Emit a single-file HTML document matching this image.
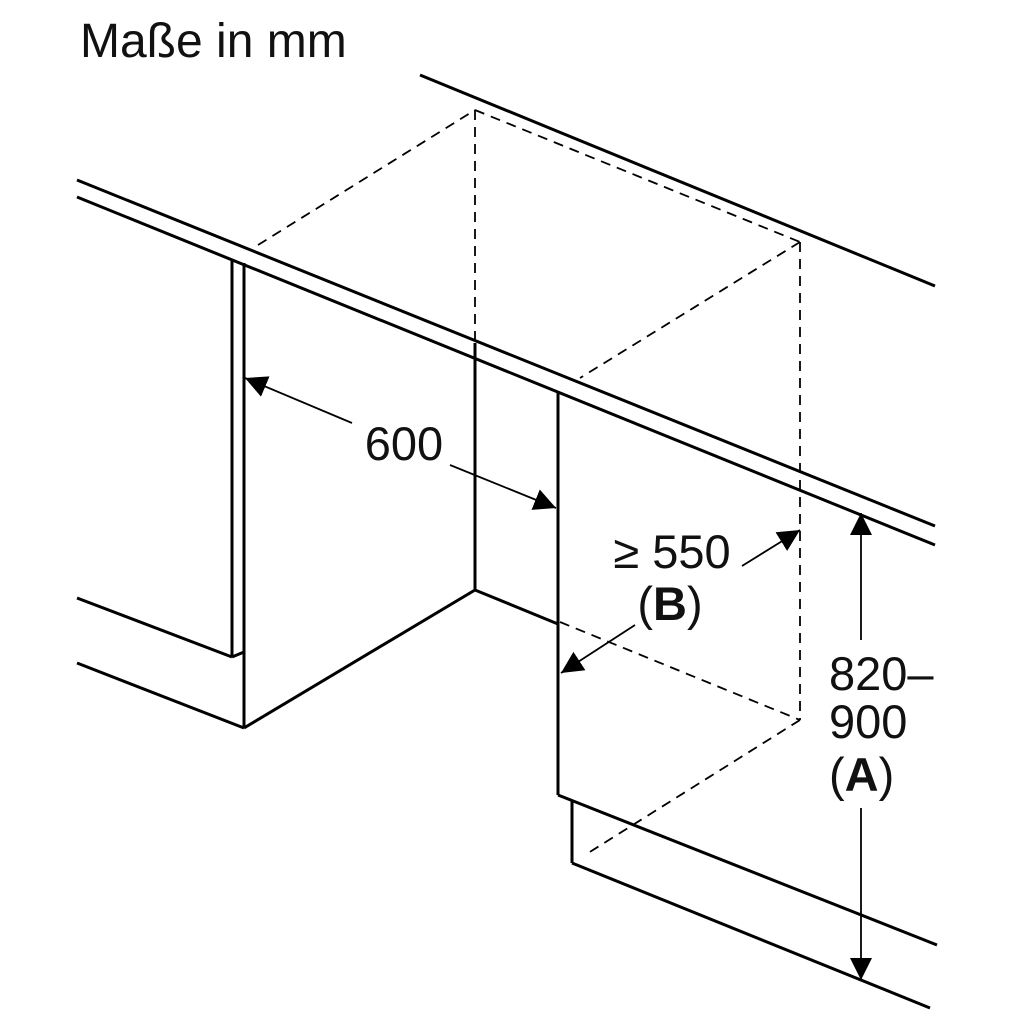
<!DOCTYPE html>
<html><head><meta charset="utf-8"><style>
html,body{margin:0;padding:0;background:#fff;}
svg{display:block;}
text{font-family:"Liberation Sans",sans-serif;fill:#111;}
</style></head><body>
<svg width="1024" height="1024" viewBox="0 0 1024 1024" xmlns="http://www.w3.org/2000/svg">
<defs>
<marker id="ar" viewBox="0 0 10 10" refX="10" refY="5" markerWidth="22" markerHeight="22" markerUnits="userSpaceOnUse" orient="auto">
<path d="M0,0 L10,5 L0,10 z" fill="#000"/>
</marker>
</defs>
<text x="80" y="57" font-size="48">Maße in mm</text>
<g stroke="#000" stroke-width="3" fill="none" stroke-linejoin="miter">
<line x1="420" y1="75" x2="935" y2="286"/>
<line x1="77" y1="180" x2="935" y2="526"/>
<line x1="77" y1="197" x2="935" y2="545"/>
<line x1="77" y1="598" x2="232" y2="657"/>
<line x1="77" y1="663" x2="244" y2="728"/>
<line x1="232" y1="259" x2="232" y2="657"/>
<line x1="244" y1="263" x2="244" y2="728"/>
<line x1="232" y1="657" x2="244" y2="652"/>
<line x1="475" y1="343" x2="475" y2="590"/>
<line x1="244" y1="728" x2="475" y2="590"/>
<line x1="475" y1="590" x2="558" y2="624"/>
<line x1="558" y1="392" x2="558" y2="795"/>
<line x1="558" y1="795" x2="937" y2="945"/>
<line x1="572" y1="800" x2="572" y2="863"/>
<line x1="572" y1="863" x2="930" y2="1008"/>
</g>
<g stroke="#000" stroke-width="1.8" fill="none" stroke-dasharray="10,7">
<line x1="258" y1="245" x2="475" y2="110"/>
<line x1="475" y1="110" x2="800" y2="242"/>
<line x1="800" y1="242" x2="580" y2="378"/>
<line x1="475" y1="110" x2="475" y2="343"/>
<line x1="800" y1="242" x2="800" y2="720"/>
<line x1="560" y1="622" x2="800" y2="720"/>
<line x1="800" y1="720" x2="585" y2="855"/>
</g>
<g stroke="#000" stroke-width="1.8" fill="none">
<line x1="352" y1="423" x2="245" y2="378" marker-end="url(#ar)"/>
<line x1="450" y1="465" x2="556" y2="508" marker-end="url(#ar)"/>
<line x1="742" y1="566" x2="800" y2="530" marker-end="url(#ar)"/>
<line x1="635" y1="625" x2="561" y2="673" marker-end="url(#ar)"/>
<line x1="861" y1="640" x2="861" y2="513" marker-end="url(#ar)"/>
<line x1="861" y1="808" x2="861" y2="980" marker-end="url(#ar)"/>
</g>
<text x="404" y="460" font-size="47" text-anchor="middle">600</text>
<text x="672" y="568" font-size="47" text-anchor="middle">≥ 550</text>
<text x="670" y="620" font-size="47" text-anchor="middle">(<tspan font-weight="bold">B</tspan>)</text>
<text x="829" y="690" font-size="47">820–</text>
<text x="829" y="738" font-size="47">900</text>
<text x="829" y="791" font-size="47">(<tspan font-weight="bold">A</tspan>)</text>
</svg>
</body></html>
